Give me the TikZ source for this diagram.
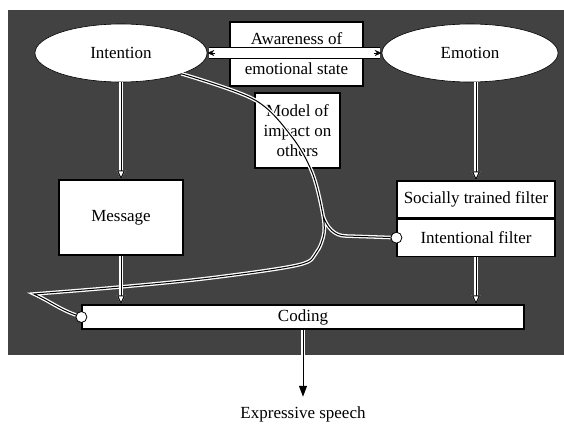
\documentclass[tikz,border=0pt]{standalone}
\usepackage{fontspec}
\setmainfont{Liberation Serif}
\usetikzlibrary{shapes.geometric, arrows.meta}

\tikzset{
  oval/.style={ellipse, fill=white, draw=black, line width=0.6pt,
    minimum width=172pt, minimum height=58pt, inner sep=0pt},
  box/.style={rectangle, fill=white, draw=black, line width=1.2pt,
    inner sep=0pt, align=center},
  port/.style={circle, fill=white, draw=black, line width=0.8pt,
    minimum size=11pt, inner sep=0pt},
  link/.style={line width=1pt, preaction={draw=white, line width=3.6pt}},
  flow/.style={link, -{Triangle[length=9pt, width=8pt, fill=white]}},
}

\begin{document}
\begin{tikzpicture}[x=1pt, y=-1pt, font=\fontsize{17}{20}\selectfont]

  % --- Frame ---
  \useasboundingbox (0,0) rectangle (564,423);
  \fill[black!74] (8,10) rectangle (564,355);

  % --- Ellipses ---
  \node[oval] (Intention) at (121,53) {Intention};
  \node[oval, minimum width=176pt] (Emotion) at (470,53) {Emotion};

  % --- Boxes ---
  \node[box, minimum width=133pt, minimum height=64pt] (Aware) at (296.5,54)
    {Awareness of\\[10pt]emotional state};
  \node[box, minimum width=85pt, minimum height=75pt] (Model) at (297.5,130.5)
    {Model of\\impact on\\others};
  \node[box, minimum width=124pt, minimum height=75pt] (Message) at (121,217.5) {Message};
  \node[box, minimum width=158pt, minimum height=37pt] (Social) at (476,199.5)
    {Socially trained filter};
  \node[box, minimum width=158pt, minimum height=37pt, anchor=north] (Filter)
    at (Social.south) {Intentional filter};
  \node[box, minimum width=442pt, minimum height=24pt] (Coding) at (303,317) {Coding};
  \node (Speech) at (303,414) {Expressive speech};

  % --- Awareness strip ---
  \draw[line width=1pt, double=white, double distance=10pt,
    shorten <=1.5pt, shorten >=1.5pt] (Intention.east) -- (Emotion.west);
  \draw[-{Stealth[length=7pt, width=6pt]}] ([xshift=8pt]Intention.east) -- (Intention.east);
  \draw[-{Stealth[length=7pt, width=6pt]}] ([xshift=-8pt]Emotion.west) -- (Emotion.west);

  % --- Ports ---
  \node[port] (CodePort) at (Coding.west) {};
  \node[port] (FilterPort) at (Filter.west) {};

  % --- Impact curve ---
  \draw[link] plot[smooth, tension=0.55] coordinates {(Intention.-19) (255,100)
      (292,137) (312,172) (322,210) (324,233) (316,253) (298,265) (210,278)
      (120,287) (34,294)}
    to[out=-25, in=160] (CodePort)
    (323,216) to[out=-70, in=180] (346,236) -- (FilterPort);

  % --- Arrows ---
  \draw[flow] (Intention) -- (Message);
  \draw[flow] (Emotion.south -| Social.north) -- (Social.north);
  \draw[flow] (Message) -- (Message |- Coding.north);
  \draw[flow] (Filter) -- (Filter |- Coding.north);
  \draw[link, -{Triangle[length=11pt, width=8pt]}, shorten >=6pt] (Coding) -- (Speech);

\end{tikzpicture}
\end{document}
